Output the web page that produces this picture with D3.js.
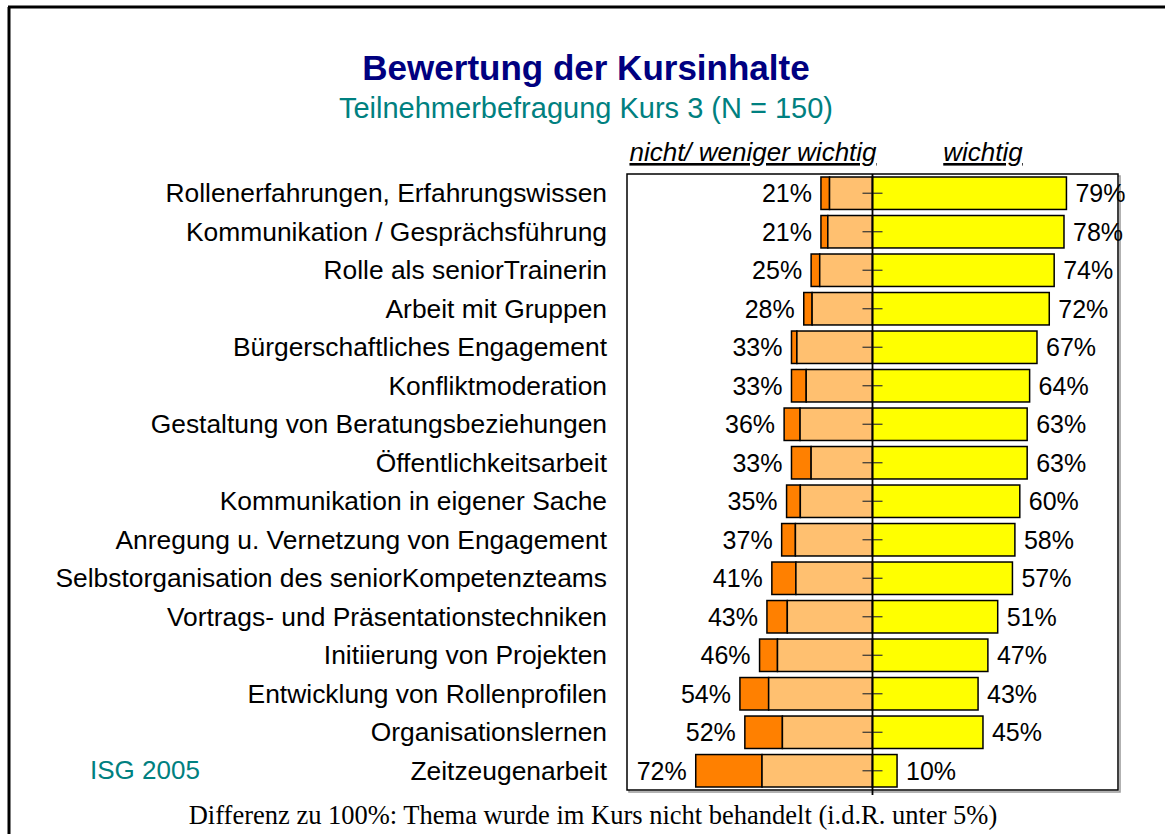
<!DOCTYPE html>
<html>
<head>
<meta charset="utf-8">
<script src="https://cdn.jsdelivr.net/npm/d3@7"></script>
<style>
  body { margin: 0; background: #fff; }
  svg { display: block; font-family: "Liberation Sans", Arial, sans-serif; }
</style>
</head>
<body>
<script>
// topics, top to bottom
var categories = [
  "Rollenerfahrungen, Erfahrungswissen",
  "Kommunikation / Gesprächsführung",
  "Rolle als seniorTrainerin",
  "Arbeit mit Gruppen",
  "Bürgerschaftliches Engagement",
  "Konfliktmoderation",
  "Gestaltung von Beratungsbeziehungen",
  "Öffentlichkeitsarbeit",
  "Kommunikation in eigener Sache",
  "Anregung u. Vernetzung von Engagement",
  "Selbstorganisation des seniorKompetenzteams",
  "Vortrags- und Präsentationstechniken",
  "Initiierung von Projekten",
  "Entwicklung von Rollenprofilen",
  "Organisationslernen",
  "Zeitzeugenarbeit"
];
// "nicht / weniger wichtig" total (label) and the "nicht wichtig" part of it
var leftTotal = [21, 21, 25, 28, 33, 33, 36, 33, 35, 37, 41, 43, 46, 54, 52, 72];
var nichtWichtig = [3.5, 2.8, 3.5, 3.4, 2.2, 6, 6.5, 8, 5.6, 5.6, 9.8, 8.3, 7.3, 11.7, 15.3, 27];
var wichtig = [79, 78, 74, 72, 67, 64, 63, 63, 60, 58, 57, 51, 47, 43, 45, 10];

var rows = categories.map(function(c, i) {
  return { cat: c, nicht: nichtWichtig[i], weniger: leftTotal[i] - nichtWichtig[i], left: leftTotal[i], wichtig: wichtig[i] };
});

var width = 1165, height = 834;
var svg = d3.select("body").append("svg").attr("width", width).attr("height", height);

// slide border (top + left only)
svg.append("line").attr("x1", 8).attr("x2", width).attr("y1", 7).attr("y2", 7).attr("stroke", "#000").attr("stroke-width", 3);
svg.append("line").attr("x1", 9).attr("x2", 9).attr("y1", 7).attr("y2", height).attr("stroke", "#000").attr("stroke-width", 3);

svg.append("text").attr("x", 586).attr("y", 80).attr("text-anchor", "middle")
  .attr("font-size", 35).attr("font-weight", "bold").attr("fill", "#000080")
  .text("Bewertung der Kursinhalte");
svg.append("text").attr("x", 586).attr("y", 118).attr("text-anchor", "middle")
  .attr("font-size", 29).attr("fill", "#008080")
  .text("Teilnehmerbefragung Kurs 3 (N = 150)");

var x = d3.scaleLinear().domain([-100, 100]).range([627, 1118]);
var y = d3.scaleBand().domain(categories).range([174, 790]).paddingInner(0.157).paddingOuter(0.078);

// column headers
svg.append("text").attr("x", 753).attr("y", 161).attr("text-anchor", "middle")
  .attr("font-size", 26).attr("font-style", "italic").attr("text-decoration", "underline")
  .text("nicht/ weniger wichtig");
svg.append("text").attr("x", 983).attr("y", 161).attr("text-anchor", "middle")
  .attr("font-size", 26).attr("font-style", "italic").attr("text-decoration", "underline")
  .text("wichtig");

// plot frame with shadow
svg.append("rect").attr("x", x(-100) + 2).attr("y", 176).attr("width", x(100) - x(-100)).attr("height", 616)
  .attr("fill", "none").attr("stroke", "#999").attr("stroke-width", 1.5);
svg.append("rect").attr("x", x(-100)).attr("y", 174).attr("width", x(100) - x(-100)).attr("height", 616)
  .attr("fill", "#fff").attr("stroke", "#000").attr("stroke-width", 1.5);

var g = svg.append("g");
var bh = y.bandwidth();

g.selectAll("rect.nicht").data(rows).enter().append("rect")
  .attr("class", "nicht")
  .attr("x", function(d) { return x(-d.left); })
  .attr("y", function(d) { return y(d.cat); })
  .attr("width", function(d) { return x(0) - x(-d.nicht) ; })
  .attr("height", bh)
  .attr("fill", "#FF8000").attr("stroke", "#000").attr("stroke-width", 1.5);

g.selectAll("rect.weniger").data(rows).enter().append("rect")
  .attr("class", "weniger")
  .attr("x", function(d) { return x(-d.weniger); })
  .attr("y", function(d) { return y(d.cat); })
  .attr("width", function(d) { return x(0) - x(-d.weniger); })
  .attr("height", bh)
  .attr("fill", "#FFC070").attr("stroke", "#000").attr("stroke-width", 1.5);

g.selectAll("rect.wichtig").data(rows).enter().append("rect")
  .attr("class", "wichtig")
  .attr("x", x(0))
  .attr("y", function(d) { return y(d.cat); })
  .attr("width", function(d) { return x(d.wichtig) - x(0); })
  .attr("height", bh)
  .attr("fill", "#FFFF00").attr("stroke", "#000").attr("stroke-width", 1.5);

// ticks crossing the zero line
g.selectAll("line.tick").data(rows).enter().append("line")
  .attr("x1", x(0) - 10).attr("x2", x(0) + 10)
  .attr("y1", function(d) { return y(d.cat) + bh / 2; })
  .attr("y2", function(d) { return y(d.cat) + bh / 2; })
  .attr("stroke", "#333").attr("stroke-width", 1.2);

svg.append("line").attr("x1", x(0)).attr("x2", x(0)).attr("y1", 174).attr("y2", 795)
  .attr("stroke", "#000").attr("stroke-width", 1.8);

// category labels
svg.selectAll("text.cat").data(rows).enter().append("text")
  .attr("x", 607)
  .attr("y", function(d) { return y(d.cat) + bh / 2 + 9; })
  .attr("text-anchor", "end").attr("font-size", 26.4)
  .text(function(d) { return d.cat; });

// value labels
svg.selectAll("text.lv").data(rows).enter().append("text")
  .attr("x", function(d) { return x(-d.left) - 9; })
  .attr("y", function(d) { return y(d.cat) + bh / 2 + 9; })
  .attr("text-anchor", "end").attr("font-size", 25)
  .text(function(d) { return d.left + "%"; });
svg.selectAll("text.rv").data(rows).enter().append("text")
  .attr("x", function(d) { return x(d.wichtig) + 9; })
  .attr("y", function(d) { return y(d.cat) + bh / 2 + 9; })
  .attr("font-size", 25)
  .text(function(d) { return d.wichtig + "%"; });

svg.append("text").attr("x", 90).attr("y", 779).attr("font-size", 26).attr("fill", "#008080").text("ISG 2005");

svg.append("text").attr("x", 593).attr("y", 824).attr("text-anchor", "middle")
  .attr("font-family", "'Liberation Serif', 'Times New Roman', serif").attr("font-size", 26.5)
  .text("Differenz zu 100%: Thema wurde im Kurs nicht behandelt (i.d.R. unter 5%)");
</script>
</body>
</html>
